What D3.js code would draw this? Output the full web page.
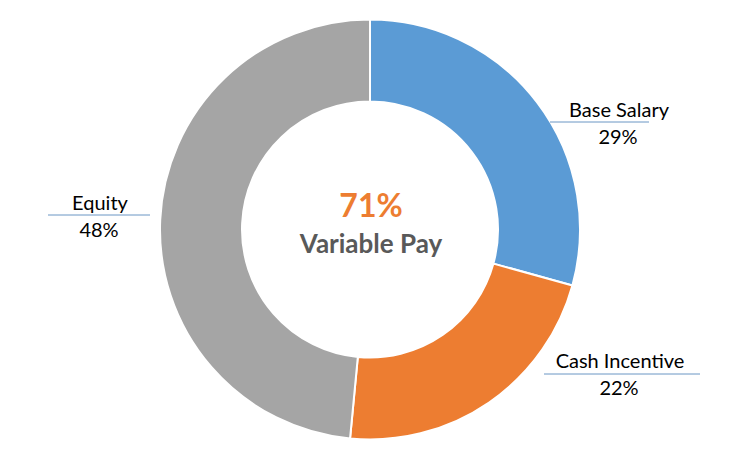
<!DOCTYPE html>
<html>
<head>
<meta charset="utf-8">
<script src="https://cdn.jsdelivr.net/npm/d3@7"></script>
<style>
  body { margin: 0; background: #fff; }
  text { font-family: Lato, "Noto Sans", sans-serif; }
</style>
</head>
<body>
<div id="chart"></div>
<script>
// Data
var categories = ["Base Salary", "Cash Incentive", "Equity"];
var shares = [29, 22, 48];
var shareLabels = ["29%", "22%", "48%"];
var centerValue = "71%";
var centerLabel = "Variable Pay";

var colors = ["#5B9BD5", "#ED7D31", "#A5A5A5"];

// Label placement (label centre, underline span), per slice
var labelPos = [
  {x: 619, y: 117, x1: 550, x2: 649, ly: 122},
  {x: 620, y: 368, x1: 544, x2: 700, ly: 374},
  {x: 100, y: 210, x1: 48, x2: 150, ly: 215}
];

var width = 737, height = 460;
var cx = 370, cy = 229.5;
var outerR = 210, innerR = 128;

var svg = d3.select("#chart")
    .append("svg")
    .attr("width", width)
    .attr("height", height);

var g = svg.append("g")
    .attr("transform", "translate(" + cx + "," + cy + ")");

var pie = d3.pie().sort(null).value(function (d) { return d; });
var arc = d3.arc().innerRadius(innerR).outerRadius(outerR);

var data = pie(shares);

g.selectAll("path.slice")
    .data(data)
    .enter()
    .append("path")
    .attr("class", "slice")
    .attr("d", arc)
    .attr("fill", function (d, i) { return colors[i]; })
    .attr("stroke", "#fff")
    .attr("stroke-width", 2);

// Labels
var labels = svg.selectAll("g.lbl")
    .data(categories)
    .enter()
    .append("g")
    .attr("class", "lbl");

labels.append("line")
    .attr("x1", function (d, i) { return labelPos[i].x1; })
    .attr("x2", function (d, i) { return labelPos[i].x2; })
    .attr("y1", function (d, i) { return labelPos[i].ly; })
    .attr("y2", function (d, i) { return labelPos[i].ly; })
    .attr("stroke", "#6A96C4")
    .attr("stroke-width", 1);

labels.append("text")
    .attr("x", function (d, i) { return labelPos[i].x; })
    .attr("y", function (d, i) { return labelPos[i].y; })
    .attr("text-anchor", "middle")
    .attr("font-size", 20)
    .attr("fill", "#000")
    .text(function (d) { return d; });

labels.append("text")
    .attr("x", function (d, i) { return labelPos[i].x - 1; })
    .attr("y", function (d, i) { return labelPos[i].y + 27; })
    .attr("text-anchor", "middle")
    .attr("font-size", 20)
    .attr("fill", "#000")
    .text(function (d, i) { return shareLabels[i]; });

// Centre text
g.append("text")
    .attr("x", 1)
    .attr("y", 217 - cy)
    .attr("text-anchor", "middle")
    .attr("font-size", 32)
    .attr("font-weight", "bold")
    .attr("fill", "#ED7D31")
    .text(centerValue);

g.append("text")
    .attr("x", 1)
    .attr("y", 253 - cy)
    .attr("text-anchor", "middle")
    .attr("font-size", 26)
    .attr("font-weight", "bold")
    .attr("fill", "#595959")
    .text(centerLabel);
</script>
</body>
</html>
